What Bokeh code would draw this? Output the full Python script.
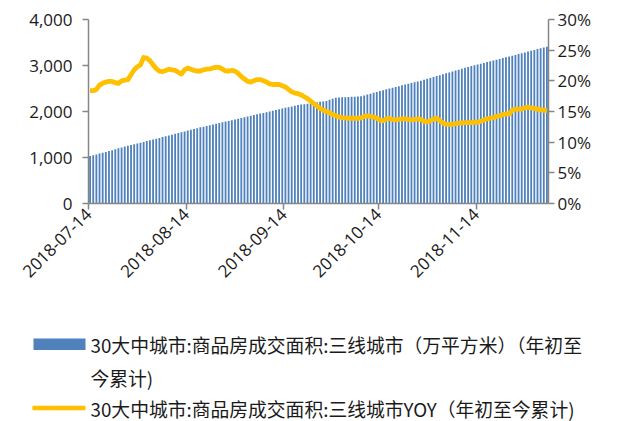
import numpy as np
import pandas as pd
from bokeh.plotting import figure
from bokeh.layouts import column
from bokeh.models import (Range1d, LinearAxis, NumeralTickFormatter, FixedTicker,
                          DatetimeTickFormatter, ColumnDataSource)
from bokeh.core.properties import value
from bokeh.embed import file_html
from bokeh.resources import INLINE

start_date = "2018-07-14"
tick_dates = ["2018-07-14", "2018-08-14", "2018-09-14", "2018-10-14", "2018-11-14"]

# 30大中城市 三线城市 商品房成交面积 (万平方米, 年初至今累计), daily
area = [1030, 1048, 1066, 1085, 1103, 1122, 1141, 1160, 1180, 1200, 1220,
        1237, 1254, 1271, 1288, 1305, 1322, 1339, 1356, 1373, 1390,
        1408, 1425, 1443, 1461, 1478, 1496, 1514, 1532, 1549, 1567, 1585, 1602, 1620, 1638, 1655,
        1671, 1687, 1702, 1718, 1734, 1749, 1765, 1780, 1796, 1812, 1828, 1843, 1859, 1875, 1890,
        1906, 1922, 1938, 1954, 1970, 1986, 2002, 2018, 2034, 2050,
        2065, 2080, 2095, 2110, 2125, 2140,
        2150, 2160, 2170, 2180, 2190, 2200, 2210, 2220, 2230,
        2253, 2277, 2300,
        2304, 2308, 2312, 2316, 2320, 2323, 2327, 2330,
        2349, 2368, 2387, 2406, 2425, 2444, 2463, 2482, 2500,
        2517, 2534, 2551, 2568, 2585, 2602, 2619, 2636, 2653, 2670,
        2690, 2710, 2730, 2750, 2770, 2790, 2810, 2830, 2850, 2870, 2890, 2910, 2930, 2950, 2970,
        2987, 3005, 3022, 3039, 3057, 3074, 3091, 3109, 3126, 3143, 3161, 3178, 3195, 3213, 3230,
        3248, 3266, 3284, 3302, 3320, 3338, 3356, 3374, 3392, 3410]

# YOY (%), daily
yoy = [18.4, 18.4, 18.6, 19.3, 19.6, 19.8, 19.9, 19.9, 19.7, 19.6,
       20.0, 20.1, 20.2, 21.0, 21.8, 22.3, 22.6, 23.8, 23.7, 23.3,
       22.6, 22.0, 21.6, 21.5, 21.7, 21.9, 21.8, 21.7, 21.4, 21.1,
       21.8, 22.1, 21.9, 21.7, 21.6, 21.6, 21.8, 21.9, 21.95, 22.1,
       22.2, 22.2, 21.9, 21.6, 21.6, 21.7, 21.6, 21.2, 20.7, 20.3,
       19.9, 19.8, 20.0, 20.2, 20.2, 20.0, 19.8, 19.5, 19.4, 19.4,
       19.4, 19.2, 19.0, 18.6, 18.2, 18.0, 17.9, 17.7, 17.4, 17.1,
       16.7, 16.3, 15.9, 15.5, 15.2, 15.0, 14.8, 14.5, 14.3, 14.1,
       14.0, 13.95, 13.9, 13.9, 13.9, 13.9, 13.95, 14.2, 14.3, 14.2,
       14.1, 13.9, 13.6, 13.5, 13.8, 13.9, 13.7, 13.65, 13.7, 13.8,
       13.8, 13.7, 13.65, 13.7, 13.8, 13.7, 13.4, 13.3, 13.5, 13.8,
       13.9, 13.5, 13.1, 12.95, 12.9, 12.9, 13.0, 13.1, 13.15, 13.2,
       13.2, 13.2, 13.25, 13.25, 13.4, 13.6, 13.8, 13.9, 14.0, 14.2,
       14.3, 14.5, 14.6, 14.6, 15.2, 15.4, 15.4, 15.4, 15.6, 15.7,
       15.6, 15.5, 15.4, 15.3, 15.2, 15.2]

left_ticks = [0, 1000, 2000, 3000, 4000]
right_ticks = [0, 0.05, 0.10, 0.15, 0.20, 0.25, 0.30]

bar_label_lines = ["30大中城市:商品房成交面积:三线城市（万平方米）（年初至", "今累计)"]
line_label = "30大中城市:商品房成交面积:三线城市YOY（年初至今累计)"

BAR_COLOR = "#4f81bd"
LINE_COLOR = "#ffc000"
AX = "#868686"
FONT = "Open Sans"
FS = "17px"
CJK = "Noto Sans CJK SC"

days = pd.date_range(start_date, periods=len(area), freq="D")
centers = days + pd.Timedelta(hours=12)
src = ColumnDataSource(dict(x=centers, area=area, yoy=np.array(yoy) / 100.0))

p = figure(width=617, height=298, x_axis_type="datetime", output_backend="svg",
           toolbar_location=None,
           x_range=Range1d(days[0], days[-1] + pd.Timedelta(days=1)),
           y_range=Range1d(0, 4000),
           min_border_left=88, min_border_right=69, min_border_top=19, min_border_bottom=95)
p.frame_align = False
p.extra_y_ranges = {"pct": Range1d(0, 0.30)}
p.outline_line_color = None
p.xgrid.visible = False
p.ygrid.visible = False

p.vbar(x="x", top="area", width=0.58 * 86400000, source=src,
       fill_color=BAR_COLOR, line_color=None)
p.line(x="x", y="yoy", source=src, y_range_name="pct",
       line_color=LINE_COLOR, line_width=4.8, line_join="round")


def style(ax):
    ax.axis_line_color = AX
    ax.axis_line_width = 1.5
    ax.major_tick_line_color = AX
    ax.major_tick_line_width = 1.5
    ax.major_tick_out = 6
    ax.major_tick_in = 0
    ax.minor_tick_line_color = None
    ax.major_label_text_font = FONT
    ax.major_label_text_font_size = FS
    ax.major_label_text_color = "#1a1a1a"


yl = p.yaxis[0]
style(yl)
yl.ticker = FixedTicker(ticks=left_ticks)
yl.formatter = NumeralTickFormatter(format="0,0")
yl.major_label_standoff = 10

yr = LinearAxis(y_range_name="pct")
style(yr)
yr.ticker = FixedTicker(ticks=right_ticks)
yr.formatter = NumeralTickFormatter(format="0%")
yr.major_label_standoff = 3
p.add_layout(yr, "right")

xa = p.xaxis[0]
style(xa)
xa.ticker = FixedTicker(ticks=[pd.Timestamp(d).value / 1e6 for d in tick_dates])
fmt = "%Y-%m-%d"
xa.formatter = DatetimeTickFormatter(days=fmt, months=fmt, years=fmt, hours=fmt,
                                     minutes=fmt, seconds=fmt, milliseconds=fmt,
                                     microseconds=fmt, minsec=fmt, hourmin=fmt, context=None)
xa.major_label_orientation = np.pi / 4
xa.major_label_standoff = 2

# ---- legend panel (pixel layout, y downward) ----
LH = 123
lg = figure(width=617, height=LH, output_backend="svg", toolbar_location=None,
            x_range=Range1d(0, 617), y_range=Range1d(LH, 0),
            x_axis_location=None, y_axis_location=None,
            min_border=0, min_border_left=0, min_border_right=0,
            min_border_top=0, min_border_bottom=0)
lg.frame_align = False
lg.outline_line_color = None
lg.xgrid.visible = False
lg.ygrid.visible = False

lg.quad(left=[33], right=[85], top=[40], bottom=[51.5], fill_color=BAR_COLOR, line_color=None)
lg.line(x=[32, 85], y=[109.5, 109.5], line_color=LINE_COLOR, line_width=4.5)
lg.text(x=[90, 90, 90], y=[46, 78.5, 109.5],
        text=[bar_label_lines[0], bar_label_lines[1], line_label],
        text_align="left", text_baseline="middle",
        text_font=value(CJK), text_font_size="18.8px", text_color="#1a1a1a")

layout = column(p, lg, spacing=0)
open("out.html", "w").write(file_html(layout, INLINE))
